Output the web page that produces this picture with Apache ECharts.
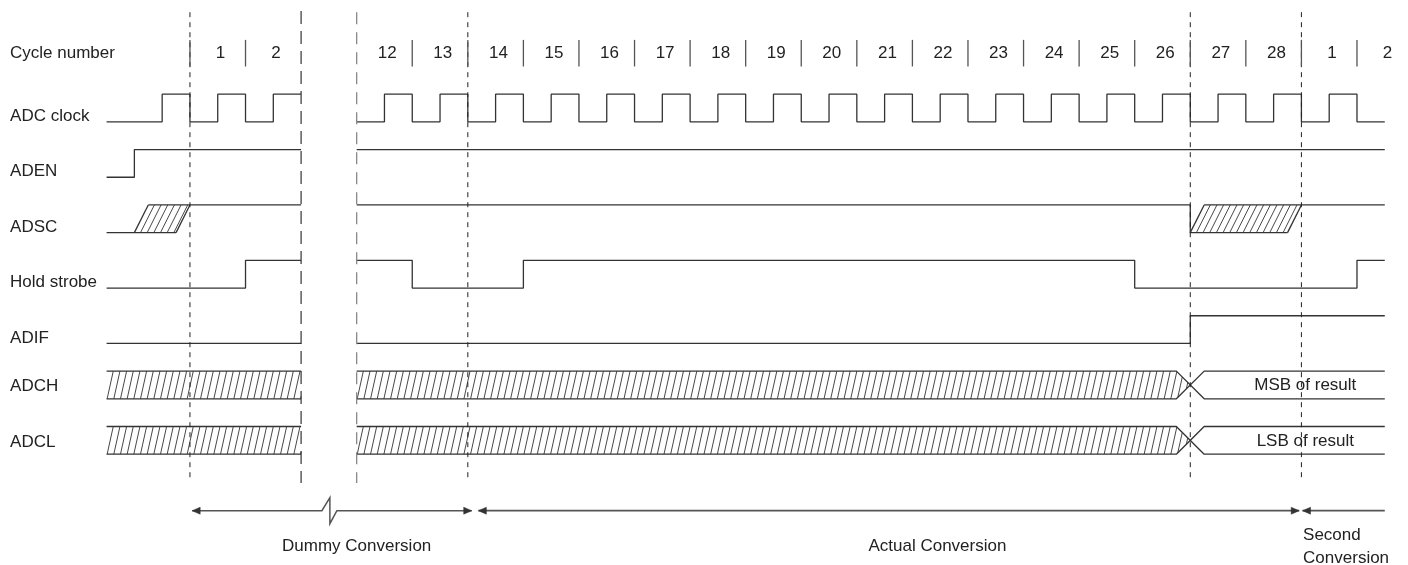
<!DOCTYPE html>
<html>
<head>
<meta charset="utf-8">
<title>ADC conversion timing</title>
<script src="https://cdn.jsdelivr.net/npm/echarts@6/dist/echarts.min.js"></script>
<style>
  html, body { margin: 0; padding: 0; background: #fff; }
  #chart { width: 1408px; height: 565px; }
</style>
</head>
<body>
<div id="chart"></div>
<script>
// time is counted in ADC clock periods, 0 = start of cycle 1; 2..3 is the cut-out gap
const ROW_NAMES = ['ADC clock', 'ADEN', 'ADSC', 'Hold strobe', 'ADIF', 'ADCH', 'ADCL'];

const CYCLE_LABELS = ['1', '2', '12', '13', '14', '15', '16', '17', '18', '19', '20',
  '21', '22', '23', '24', '25', '26', '27', '28', '1', '2'];
const CYCLE_STARTS = [0, 1, 3, 4, 5, 6, 7, 8, 9, 10, 11, 12, 13, 14, 15, 16, 17, 18, 19, 20, 21];
const CYCLE_DIVIDERS = [0, 1, 4, 5, 6, 7, 8, 9, 10, 11, 12, 13, 14, 15, 16, 17, 18, 19, 20, 21];

// [time, level] pairs, level 0 = low, 1 = high
const ADC_CLOCK_A = [[-1.5, 0], [-0.5, 1], [0, 0], [0.5, 1], [1, 0], [1.5, 1], [2, 1]];
const ADC_CLOCK_B = [[3, 0], [3.5, 1], [4, 0], [4.5, 1], [5, 0], [5.5, 1], [6, 0], [6.5, 1],
  [7, 0], [7.5, 1], [8, 0], [8.5, 1], [9, 0], [9.5, 1], [10, 0], [10.5, 1], [11, 0], [11.5, 1],
  [12, 0], [12.5, 1], [13, 0], [13.5, 1], [14, 0], [14.5, 1], [15, 0], [15.5, 1], [16, 0],
  [16.5, 1], [17, 0], [17.5, 1], [18, 0], [18.5, 1], [19, 0], [19.5, 1], [20, 0], [20.5, 1],
  [21, 0], [21.5, 0]];
const ADEN_A = [[-1.5, 0], [-1, 1], [2, 1]];
const ADEN_B = [[3, 1], [21.5, 1]];
const ADSC_A = [[-1.5, 0], [-0.25, 0]];
const ADSC_B = [[-0.75, 1], [2, 1]];
const ADSC_C = [[3, 1], [18, 0], [19.75, 0]];
const ADSC_D = [[18.25, 1], [21.5, 1]];
const ADSC_SLANTS = [[[-1, 0], [-0.75, 1]], [[-0.25, 0], [0, 1]], [[18, 0], [18.25, 1]], [[19.75, 0], [20, 1]]];
const HOLD_A = [[-1.5, 0], [1, 1], [2, 1]];
const HOLD_B = [[3, 1], [4, 0], [6, 1], [17, 0], [21, 1], [21.5, 1]];
const ADIF_A = [[-1.5, 0], [2, 0]];
const ADIF_B = [[3, 0], [18, 1], [21.5, 1]];

// bus edges (straight, not stepped), same for ADCH and ADCL
const BUS_EDGES = [
  [[-1.5, 1], [2, 1]],
  [[-1.5, 0], [2, 0]],
  [[3, 1], [17.75, 1], [18.25, 0], [21.5, 0]],
  [[3, 0], [17.75, 0], [18.25, 1], [21.5, 1]]
];
const BUS_HATCH = [
  [[-1.5, 0], [2, 0], [2, 1], [-1.5, 1]],
  [[3, 0], [17.75, 0], [18, 0.5], [17.75, 1], [3, 1]]
];
const ADSC_HATCH = [
  [[-1, 0], [-0.25, 0], [0, 1], [-0.75, 1]],
  [[18, 0], [19.75, 0], [20, 1], [18.25, 1]]
];
const BUS_TEXT = ['MSB of result', 'LSB of result'];

const SHORT_DASH_AT = [0, 5, 18, 20];
const LONG_DASH_AT = [2, 3];

const SPAN_ENDS = [[0.04, 5.07], [5.19, 19.96], [20.02, 21.5]];
const SPAN_HEADS = [[true, true], [true, true], [true, false]];
const SPAN_BREAK = [2.5, null, null];
const SPAN_LABELS = ['Dummy Conversion', 'Actual Conversion', 'Second\nConversion'];
const SPAN_LABEL_AT = [3.0, 13.45, 20.03];

const FONT = '"Liberation Sans", Arial, Helvetica, sans-serif';
const TEXT_COLOR = '#222';
const WAVE_COLOR = '#333';
const SPAN_ROW = 7.02;

function rowY(row, level) { return row - 0.5 * level; }

const series = [];

function addTrace(row, pts, step, color, width) {
  series.push({
    type: 'line',
    step: step ? 'end' : false,
    data: pts.map(p => [p[0], rowY(row, p[1])]),
    symbol: 'none',
    silent: true,
    animation: false,
    lineStyle: { color: color || WAVE_COLOR, width: width || 1.3 }
  });
}

addTrace(0, ADC_CLOCK_A, true);
addTrace(0, ADC_CLOCK_B, true);
addTrace(1, ADEN_A, true);
addTrace(1, ADEN_B, true);
addTrace(2, ADSC_A, true);
addTrace(2, ADSC_B, true);
addTrace(2, ADSC_C, true);
addTrace(2, ADSC_D, true);
ADSC_SLANTS.forEach(s => addTrace(2, s, false));
addTrace(3, HOLD_A, true);
addTrace(3, HOLD_B, true);
addTrace(4, ADIF_A, true);
addTrace(4, ADIF_B, true);
[5, 6].forEach(row => BUS_EDGES.forEach(e => addTrace(row, e, false)));

// vertical guide lines
function addVertical(t, v0, v1, color, width, dash) {
  series.push({
    type: 'line',
    data: [[t, v0], [t, v1]],
    symbol: 'none',
    silent: true,
    animation: false,
    lineStyle: { color: color, width: width, type: dash }
  });
}
SHORT_DASH_AT.forEach(t => addVertical(t, -1.98, 6.5, '#222', 1, [5, 5]));
addVertical(LONG_DASH_AT[0], -2.0, 6.52, '#333', 1.2, [13, 7]);
addVertical(LONG_DASH_AT[1], -1.98, 6.52, '#888', 1.3, [12, 8]);
CYCLE_DIVIDERS.forEach(t => addVertical(t, -1.48, -1.0, '#555', 1.3, 'solid'));

// hatched regions
const HATCH_REGIONS = [];
ADSC_HATCH.forEach(p => HATCH_REGIONS.push({ row: 2, pts: p, slant: 0.25 }));
[5, 6].forEach(row => BUS_HATCH.forEach(p => HATCH_REGIONS.push({ row: row, pts: p, slant: 0.11 })));
const HATCH_STEP = 0.12;

function clipToPolygon(a, b, poly) {
  const dx = b[0] - a[0], dy = b[1] - a[1];
  const hits = [];
  for (let i = 0; i < poly.length; i++) {
    const p = poly[i], q = poly[(i + 1) % poly.length];
    const ex = q[0] - p[0], ey = q[1] - p[1];
    const den = dx * ey - dy * ex;
    if (Math.abs(den) < 1e-9) continue;
    const wx = p[0] - a[0], wy = p[1] - a[1];
    const s = (wx * ey - wy * ex) / den;
    const u = (wx * dy - wy * dx) / den;
    if (u >= -1e-6 && u <= 1 + 1e-6 && s >= -1e-6 && s <= 1 + 1e-6) hits.push(s);
  }
  if (hits.length < 2) return null;
  const s0 = Math.min(...hits), s1 = Math.max(...hits);
  if (s1 - s0 < 1e-3) return null;
  return [a[0] + dx * s0, a[1] + dy * s0, a[0] + dx * s1, a[1] + dy * s1];
}

series.push({
  type: 'custom',
  silent: true,
  animation: false,
  data: HATCH_REGIONS.map((h, i) => [h.pts[0][0], rowY(h.row, 0), i]),
  renderItem: function(params, api) {
    const h = HATCH_REGIONS[params.dataIndex];
    const poly = h.pts.map(p => api.coord([p[0], rowY(h.row, p[1])]));
    const yBot = api.coord([0, rowY(h.row, 0)])[1];
    const yTop = api.coord([0, rowY(h.row, 1)])[1];
    const slantPx = api.size([h.slant, 0])[0];
    const stepPx = api.size([HATCH_STEP, 0])[0];
    const xs = poly.map(p => p[0]);
    const minX = Math.min(...xs) - slantPx, maxX = Math.max(...xs);
    const children = [];
    for (let xb = minX; xb <= maxX; xb += stepPx) {
      const seg = clipToPolygon([xb, yBot], [xb + slantPx, yTop], poly);
      if (!seg) continue;
      children.push({
        type: 'line',
        shape: { x1: seg[0], y1: seg[1], x2: seg[2], y2: seg[3] },
        style: { stroke: '#333', lineWidth: 0.9 }
      });
    }
    return { type: 'group', children: children };
  }
});

// span arrows at the bottom
series.push({
  type: 'custom',
  silent: true,
  animation: false,
  data: SPAN_ENDS.map((s, i) => [s[0], SPAN_ROW, i]),
  renderItem: function(params, api) {
    const i = params.dataIndex;
    const a = api.coord([SPAN_ENDS[i][0], SPAN_ROW]);
    const b = api.coord([SPAN_ENDS[i][1], SPAN_ROW]);
    const stroke = { stroke: '#555', lineWidth: 1.8, fill: 'none' };
    const children = [];
    if (SPAN_BREAK[i] != null) {
      const m = api.coord([SPAN_BREAK[i], SPAN_ROW]);
      children.push({
        type: 'polyline',
        shape: { points: [a, [m[0] - 7, m[1]], [m[0] + 1, m[1] - 13], [m[0] + 1, m[1] + 13], [m[0] + 8, m[1]], b] },
        style: { stroke: '#555', lineWidth: 1.5, fill: 'none' }
      });
    } else {
      children.push({ type: 'line', shape: { x1: a[0], y1: a[1], x2: b[0], y2: b[1] }, style: stroke });
    }
    const head = (tip, dir) => ({
      type: 'polygon',
      shape: { points: [tip, [tip[0] + dir * 8, tip[1] - 3.5], [tip[0] + dir * 8, tip[1] + 3.5]] },
      style: { fill: '#333', stroke: '#333', lineWidth: 0.5 }
    });
    if (SPAN_HEADS[i][0]) children.push(head(a, 1));
    if (SPAN_HEADS[i][1]) children.push(head(b, -1));
    return { type: 'group', children: children };
  }
});

// all text labels
const TEXTS = [];
TEXTS.push({ t: -3.237, v: -1.24, text: 'Cycle number', align: 'left' });
ROW_NAMES.forEach((name, r) => {
  TEXTS.push({ t: -3.237, v: r >= 5 ? rowY(r, 0.44) : r - 0.1, text: name, align: 'left' });
});
CYCLE_LABELS.forEach((lab, i) => TEXTS.push({ t: CYCLE_STARTS[i] + 0.55, v: -1.24, text: lab, align: 'center' }));
BUS_TEXT.forEach((lab, i) => TEXTS.push({ t: 20.07, v: rowY(5 + i, 0.5) + 0.01, text: lab, align: 'center' }));
SPAN_LABELS.forEach((lab, i) => TEXTS.push({
  t: SPAN_LABEL_AT[i], v: 7.67, text: lab, align: i === 2 ? 'left' : 'center'
}));

series.push({
  type: 'custom',
  silent: true,
  animation: false,
  data: TEXTS.map((d, i) => [d.t, d.v, i]),
  renderItem: function(params, api) {
    const d = TEXTS[params.dataIndex];
    const p = api.coord([d.t, d.v]);
    return {
      type: 'text',
      x: p[0],
      y: p[1],
      style: {
        text: d.text,
        fill: TEXT_COLOR,
        fontSize: 17,
        fontFamily: FONT,
        lineHeight: 23,
        align: d.align,
        verticalAlign: 'middle'
      }
    };
  }
});

const chart = echarts.init(document.getElementById('chart'), null, { renderer: 'canvas' });
chart.setOption({
  backgroundColor: '#fff',
  animation: false,
  grid: { left: 1, right: 1, top: 0, bottom: 0 },
  xAxis: { type: 'value', min: -3.4, max: 21.9, show: false },
  yAxis: { type: 'value', min: -2.2, max: 8.0, inverse: true, show: false },
  series: series
});
</script>
</body>
</html>
